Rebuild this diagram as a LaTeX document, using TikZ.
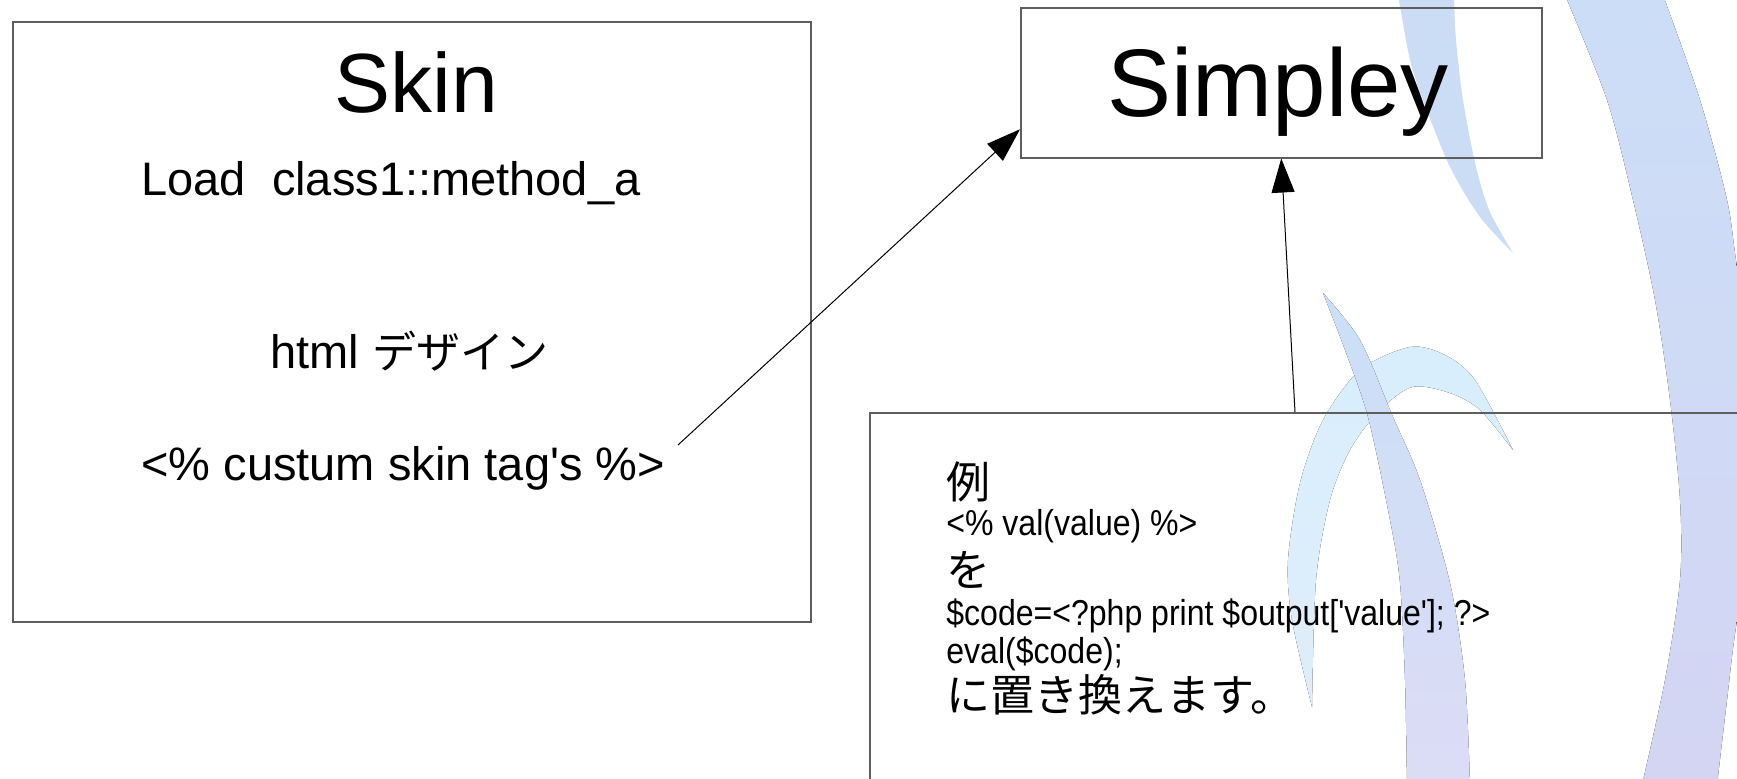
\documentclass[tikz,border=0pt]{standalone}
\usepackage{fontspec}
\usepackage{graphicx}
\setmainfont{Liberation Sans}[Ligatures=TeXOff]
\newfontfamily\jp{Noto Sans CJK JP}
\usetikzlibrary{arrows.meta,calc}

\definecolor{framegray}{HTML}{5E5E5E}
\definecolor{swoA}{HTML}{CADDF5}
\definecolor{swoBtop}{HTML}{CCDEF7}
\definecolor{swoBbot}{HTML}{D3D5F3}
\definecolor{swoC}{HTML}{D8EEFC}
\definecolor{swoCbot}{HTML}{DFEDFA}
\definecolor{swoDtop}{HTML}{CADFF7}
\definecolor{swoDbot}{HTML}{DCDCF5}

\newcommand\fs[1]{\fontsize{#1}{#1}\selectfont}

\tikzset{
  frame/.style={draw=framegray, line width=0.75pt, inner sep=0pt, anchor=north west},
  lbl/.style={inner sep=0pt, anchor=base west},
  cjk/.style={inner sep=0pt, anchor=west, font=\jp},
  link/.style={line width=0.5pt, draw=black, -{Triangle[length=17pt,width=11.5pt]}},
}

\begin{document}
\begin{tikzpicture}[x=0.5pt,y=-0.5pt]
\useasboundingbox (0,0) rectangle (1737,778);
\clip (0,0) rectangle (1737,778);

% backdrop swooshes
\fill[swoA] plot[smooth] coordinates {(1398,-5) (1410,60) (1423,100) (1450,167) (1480,217) (1513,253)}
  -- plot[smooth] coordinates {(1513,253) (1490,212) (1476,167) (1463,100) (1456,40) (1454,-5)} -- cycle;

\fill[top color=swoBtop, bottom color=swoBbot]
  plot[smooth] coordinates {(1565,-5) (1607,100) (1633,200) (1655,300) (1670,400) (1680,500) (1680,580) (1665,680) (1642,785)}
  -- (1717,785)
  -- plot[smooth] coordinates {(1717,785) (1727,700) (1737,620) (1765,450) (1737,267) (1727,200) (1700,100) (1663,-5)} -- cycle;

\fill[top color=swoC, bottom color=swoCbot]
  plot[smooth] coordinates {(1312,707) (1292,620) (1288,560) (1300,483) (1323,420) (1360,370) (1410,347) (1445,355) (1475,380) (1513,450)}
  -- plot[smooth] coordinates {(1513,450) (1480,410) (1450,393) (1412,387) (1378,412) (1350,450) (1330,500) (1316,580) (1312,707)} -- cycle;

\fill[top color=swoDtop, bottom color=swoDbot]
  plot[smooth] coordinates {(1323,293) (1345,350) (1368,417) (1390,520) (1400,583) (1405,680) (1407,785)}
  -- (1470,785)
  -- plot[smooth] coordinates {(1470,785) (1465,680) (1450,583) (1420,480) (1393,417) (1360,340) (1323,293)} -- cycle;

% boxes
\node[frame, minimum width=399pt, minimum height=300pt] (skin) at (12,21) {};
\node[frame, minimum width=260.5pt, minimum height=75pt] (simp) at (1020,7) {};
\node[frame, minimum width=460pt, minimum height=200pt] (ex) at (869,412) {};

% Skin box texts
\node[lbl] (skint) at (334,112) {\fs{42pt}Skin};
\node[lbl] (load) at (141,195) {\fs{23.5pt}Load\ \ class1::method\_a};
\node[lbl] (html) at (270,368) {\fs{23.5pt}html {\jp\fs{22pt}デザイン}};
\node[lbl] (tag) at (141,480) {\fs{23.5pt}<\% custum skin tag's \%>};

% Simpley title
\node[lbl] (simpt) at (1107,116) {\fs{48pt}Simpley};

% example box texts
\node[cjk] (rei) at (946,482) {\fs{22pt}例};
\node[lbl] (val) at (946,535) {\fs{18pt}\scalebox{0.89}[1]{<\% val(value) \%>}};
\node[cjk] (wo) at (946,570) {\fs{22pt}を};
\node[lbl] (code) at (946,625) {\fs{18pt}\scalebox{0.89}[1]{\$code=<?php print \$output['value']; ?>}};
\node[lbl] (ev) at (946,663) {\fs{18pt}\scalebox{0.89}[1]{eval(\$code);}};
\node[cjk] (rep) at (946,695) {\fs{22pt}に置き換えます。};

% connectors
\coordinate (tagend) at (678,445);
\draw[link] (tagend) -- ($(simp.north west)!0.807!(simp.south west)$);
\draw[link] ($(ex.north west)+(426,0)$) -- (simp.south);
\end{tikzpicture}
\end{document}
